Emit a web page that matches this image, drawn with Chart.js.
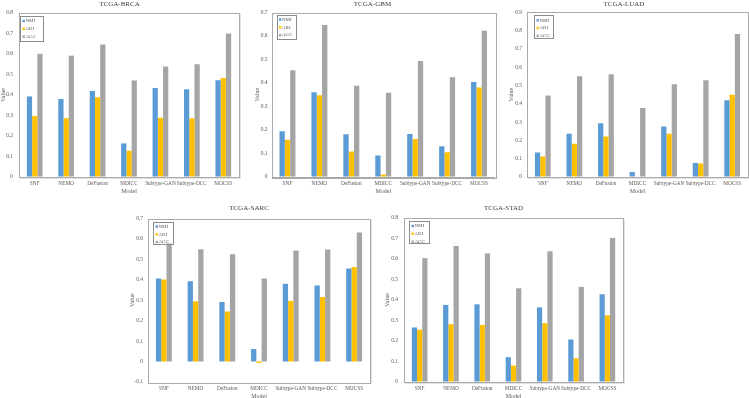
<!DOCTYPE html>
<html>
<head>
<meta charset="utf-8">
<script src="https://cdn.jsdelivr.net/npm/chart.js@4.4.0/dist/chart.umd.min.js"></script>
<style>
  body { margin: 0; width: 749px; height: 398px; overflow: hidden; background: #fff; position: relative; }
  canvas { position: absolute; }
</style>
</head>
<body>
<canvas id="brcaChart" width="250" height="198" style="left:0px;top:0px"></canvas>
<canvas id="gbmChart" width="250" height="198" style="left:250px;top:0px"></canvas>
<canvas id="luadChart" width="249" height="198" style="left:500px;top:0px"></canvas>
<canvas id="sarcChart" width="250" height="204" style="left:128px;top:198px"></canvas>
<canvas id="stadChart" width="250" height="204" style="left:384px;top:198px"></canvas>
<script>
// modellen op de x-as
var models = ['SNF', 'NEMO', 'DeFusion', 'MDICC', 'Subtype-GAN', 'Subtype-DCC', 'MOCSS'];
var metricLabels = ['NMI', 'ARI', 'ACC'];
var metricColors = ['#5B9BD5', '#FFC000', '#A5A5A5'];

// TCGA-BRCA
var brcaNMI = [0.393, 0.381, 0.420, 0.164, 0.434, 0.428, 0.472];
var brcaARI = [0.297, 0.287, 0.389, 0.128, 0.289, 0.286, 0.483];
var brcaACC = [0.601, 0.592, 0.646, 0.471, 0.539, 0.550, 0.700];
// TCGA-GBM
var gbmNMI = [0.195, 0.361, 0.182, 0.092, 0.183, 0.131, 0.404];
var gbmARI = [0.158, 0.348, 0.108, 0.011, 0.162, 0.105, 0.381];
var gbmACC = [0.454, 0.647, 0.388, 0.358, 0.494, 0.424, 0.622];
// TCGA-LUAD
var luadNMI = [0.134, 0.237, 0.294, 0.028, 0.276, 0.077, 0.419];
var luadARI = [0.112, 0.182, 0.221, 0.000, 0.237, 0.074, 0.449];
var luadACC = [0.445, 0.550, 0.561, 0.377, 0.507, 0.529, 0.781];
// TCGA-SARC
var sarcNMI = [0.406, 0.393, 0.291, 0.062, 0.381, 0.372, 0.455];
var sarcARI = [0.401, 0.295, 0.245, -0.007, 0.296, 0.316, 0.463];
var sarcACC = [0.602, 0.550, 0.525, 0.406, 0.543, 0.548, 0.632];
// TCGA-STAD
var stadNMI = [0.266, 0.376, 0.379, 0.121, 0.364, 0.207, 0.428];
var stadARI = [0.255, 0.282, 0.278, 0.080, 0.287, 0.116, 0.325];
var stadACC = [0.604, 0.664, 0.627, 0.457, 0.638, 0.464, 0.702];

var serif = '"Liberation Serif", "Times New Roman", serif';
var textColor = '#595959';

// kader om het plotgebied + legenda in de linkerbovenhoek
var frameAndLegend = {
  id: 'frameAndLegend',
  afterDatasetsDraw: function (chart, args, opts) {
    var ctx = chart.ctx;
    var a = chart.chartArea;
    ctx.save();
    // lichte schaduw
    ctx.strokeStyle = '#e2e2e2';
    ctx.lineWidth = 1;
    ctx.beginPath();
    ctx.moveTo(Math.round(a.right) + 1.5, Math.round(a.top) + 1);
    ctx.lineTo(Math.round(a.right) + 1.5, Math.round(a.bottom) + 1.5);
    ctx.lineTo(Math.round(a.left) + 1, Math.round(a.bottom) + 1.5);
    ctx.stroke();
    ctx.strokeStyle = '#ababab';
    ctx.strokeRect(Math.round(a.left) + 0.5, Math.round(a.top) + 0.5,
      Math.round(a.right - a.left), Math.round(a.bottom - a.top));

    // legenda
    var lx = a.left + opts.dx;
    var ly = a.top + opts.dy;
    ctx.fillStyle = '#fff';
    ctx.fillRect(lx, ly, opts.w, opts.h);
    ctx.strokeStyle = '#8c8c8c';
    ctx.strokeRect(Math.round(lx) + 0.5, Math.round(ly) + 0.5, opts.w, opts.h);
    ctx.font = '5px ' + serif;
    ctx.textBaseline = 'middle';
    chart.data.datasets.forEach(function (ds, i) {
      var y = ly + 5 + i * 7.8;
      ctx.fillStyle = ds.backgroundColor;
      ctx.fillRect(lx + 2.5, y - 1.2, 2.4, 2.4);
      ctx.fillStyle = textColor;
      ctx.fillText(ds.label, lx + 5.5, y);
    });
    ctx.restore();
  }
};

function maakGrafiek(id, title, nmi, ari, acc, lay) {
  var chartData = {
    labels: models,
    datasets: [nmi, ari, acc].map(function (values, i) {
      return {
        label: metricLabels[i],
        data: values,
        backgroundColor: metricColors[i],
        categoryPercentage: 0.5,
        barPercentage: 1.0
      };
    })
  };
  var chartOptions = {
    responsive: false,
    animation: false,
    layout: { padding: { left: 0, right: lay.padRight, top: 0, bottom: 0 } },
    plugins: {
      legend: { display: false },
      tooltip: { enabled: false },
      title: {
        display: true,
        text: title,
        color: '#404040',
        font: { family: serif, size: 7, weight: 'normal' },
        padding: { top: lay.titleTop, bottom: lay.titleBottom }
      },
      frameAndLegend: lay.legend
    },
    scales: {
      x: {
        grid: { display: false, drawTicks: false },
        border: { display: false },
        ticks: { color: textColor, font: { family: serif, size: 5.3 }, padding: 3, maxRotation: 0, autoSkip: false },
        title: { display: true, text: 'Model', color: textColor, font: { family: serif, size: 6 }, padding: { top: 0, bottom: lay.modelPad } },
        afterFit: function (s) { s.height = lay.xHeight; }
      },
      y: {
        min: lay.yMin,
        max: lay.yMax,
        grid: {
          drawTicks: false,
          color: function (c) { return c.tick && c.tick.value === 0 ? '#a6a6a6' : 'rgba(0,0,0,0)'; }
        },
        border: { display: false },
        ticks: {
          stepSize: 0.1,
          color: textColor,
          font: { family: serif, size: 5.5 },
          padding: lay.tickPad,
          callback: function (v) { return Math.abs(v) < 1e-9 ? '0' : v.toFixed(1); }
        },
        title: { display: true, text: 'Value', color: textColor, font: { family: serif, size: 6 }, padding: { top: lay.valuePad, bottom: 0 } },
        afterFit: function (s) { s.width = lay.yWidth; }
      }
    }
  };
  var ctx = document.getElementById(id).getContext('2d');
  return new Chart(ctx, {
    type: 'bar',
    data: chartData,
    options: chartOptions,
    plugins: [frameAndLegend]
  });
}

maakGrafiek('brcaChart', 'TCGA-BRCA', brcaNMI, brcaARI, brcaACC, {
  padRight: 11, titleTop: 0, titleBottom: 4.6, xHeight: 21, modelPad: 3.4,
  yMin: 0, yMax: 0.8, tickPad: 6, valuePad: 0, yWidth: 19,
  legend: { dx: 1, dy: 3, w: 23, h: 25 }
});
maakGrafiek('gbmChart', 'TCGA-GBM', gbmNMI, gbmARI, gbmACC, {
  padRight: 5, titleTop: 0, titleBottom: 4.1, xHeight: 21, modelPad: 3.4,
  yMin: 0, yMax: 0.7, tickPad: 4, valuePad: 3.4, yWidth: 21.5,
  legend: { dx: 5, dy: 2, w: 19, h: 24 }
});
maakGrafiek('luadChart', 'TCGA-LUAD', luadNMI, luadARI, luadACC, {
  padRight: 1, titleTop: 0, titleBottom: 3.9, xHeight: 21, modelPad: 3.4,
  yMin: 0, yMax: 0.9, tickPad: 5, valuePad: 8, yWidth: 27,
  legend: { dx: 7, dy: 3, w: 19, h: 23 }
});
maakGrafiek('sarcChart', 'TCGA-SARC', sarcNMI, sarcARI, sarcACC, {
  padRight: 8, titleTop: 5.8, titleBottom: 6.3, xHeight: 20, modelPad: 2.4,
  yMin: -0.1, yMax: 0.7, tickPad: 5, valuePad: 0.4, yWidth: 20,
  legend: { dx: 5, dy: 3, w: 20, h: 22 }
});
maakGrafiek('stadChart', 'TCGA-STAD', stadNMI, stadARI, stadACC, {
  padRight: 11, titleTop: 5.8, titleBottom: 5.8, xHeight: 20, modelPad: 2.4,
  yMin: 0, yMax: 0.8, tickPad: 6, valuePad: 0, yWidth: 20,
  legend: { dx: 5, dy: 3, w: 20, h: 22 }
});
</script>
</body>
</html>
